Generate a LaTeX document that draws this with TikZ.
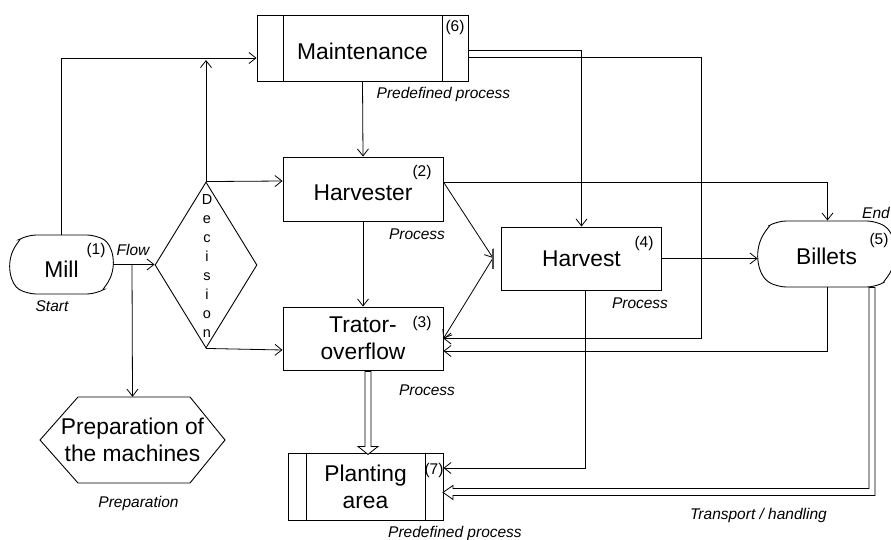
\documentclass[tikz,border=0pt]{standalone}
\usepackage{fontspec}
\setmainfont{Liberation Sans}
\usetikzlibrary{arrows.meta,shapes.geometric,shapes.misc,calc}
\tikzset{
  big/.style={font=\fontsize{22.8}{27}\selectfont},
  sm/.style={font=\fontsize{15.5}{18}\selectfont},
  it/.style={font=\fontsize{15.5}{18}\selectfont\itshape},
  box/.style={draw, line width=0.9pt, fill=white, inner sep=0pt, align=center, big},
  term/.style={box, rounded rectangle, rounded rectangle arc length=120, rounded corners=9pt},
  arr/.style={draw, line width=0.8pt, -{Straight Barb[length=7pt,width=11pt]}},
  hol/.style={draw, line width=0.8pt, fill=white},
  lbl/.style={inner sep=0pt}
}
\begin{document}
\begin{tikzpicture}[x=1pt,y=-1pt]
\useasboundingbox (0,0) rectangle (891,540);

% ---------- nodes ----------
\node[box, minimum width=211pt, minimum height=66pt, text height=24pt, text depth=0pt] (maint) at (362.5,48) {Maintenance};
\draw[line width=0.9pt] ([xshift=27pt]maint.north west) -- ([xshift=27pt]maint.south west);
\draw[line width=0.9pt] ([xshift=-26pt]maint.north east) -- ([xshift=-26pt]maint.south east);

\node[box, minimum width=160pt, minimum height=64pt, text height=23pt, text depth=0pt] (harv) at (363,189) {Harvester};
\node[box, minimum width=160pt, minimum height=63pt] (trat) at (363,338.5) {Trator-\\overflow};
\node[box, minimum width=160pt, minimum height=63pt] (harvest) at (581.5,258.5) {Harvest};
\node[term, minimum width=137pt, minimum height=66pt, text height=21pt, text depth=0pt] (bill) at (826.5,254) {Billets};
\node[term, minimum width=103pt, minimum height=59pt, text height=26pt, text depth=0pt] (mill) at (61.5,264.5) {Mill};
\node[draw, line width=0.9pt, fill=white, shape=diamond, inner sep=0pt, minimum width=102pt, minimum height=166pt] (dec) at (206,265) {};
\node[lbl, font=\fontsize{14.5}{18.9}\selectfont, align=center] (dectext) at (207,266) {D\\e\\c\\i\\s\\i\\o\\n};

\draw[line width=0.9pt, fill=white] (40,440) -- (78,397) -- (190,397) -- (225,440) -- (190,483) -- (78,483) -- cycle;
\node[inner sep=0pt, align=center, big, minimum height=86pt, minimum width=150pt] (prep) at (132.5,440) {Preparation of\\the machines};

\node[box, minimum width=155pt, minimum height=67pt] (plant) at (365.5,486.5) {Planting\\area};
\draw[line width=0.9pt] ([xshift=19pt]plant.north west) -- ([xshift=19pt]plant.south west);
\draw[line width=0.9pt] ([xshift=-18pt]plant.north east) -- ([xshift=-18pt]plant.south east);

% ---------- small labels ----------
\node[lbl, sm] (n6) at (455,27) {(6)};
\node[lbl, it] (l6) at (443.5,94) {Predefined process};
\node[lbl, sm] (n2) at (422,172) {(2)};
\node[lbl, it] (l2) at (417,234) {Process};
\node[lbl, sm] (n3) at (422,323) {(3)};
\node[lbl, it] (l3) at (427,390) {Process};
\node[lbl, sm] (n4) at (644,243) {(4)};
\node[lbl, it] (l4) at (640,303) {Process};
\node[lbl, sm] (n5) at (879,240) {(5)};
\node[lbl, it, anchor=east] (l5) at (890,213) {End};
\node[lbl, sm] (n1) at (96,250) {(1)};
\node[lbl, it] (lflow) at (133,250) {Flow};
\node[lbl, it] (lstart) at (52,306) {Start};
\node[lbl, sm] (n7) at (434,470) {(7)};
\node[lbl, it] (l7) at (455,533) {Predefined process};
\node[lbl, it] (lprep) at (138.5,503) {Preparation};
\node[lbl, it] (ltrans) at (758.5,515) {Transport / handling};

% ---------- helper coordinates ----------
\coordinate (br) at (132,264.5);
\coordinate (dtop) at (206,60);
\coordinate (jn) at (493,258);
\coordinate (m2) at (701,338.5);

% ---------- connectors ----------
\draw[arr] (mill.north) |- ([yshift=-10pt]maint.west);
\draw[arr] (mill.east) -- (mill.east -| dec.west);
\draw[arr] (br) -- (prep.north);
\draw[arr] (dec.north) -- (dtop);
\draw[arr] (dec.north) -- ([yshift=8pt]harv.west);
\draw[arr] (dec.south) -- ([yshift=-11.5pt]trat.west);
\draw[arr] (maint.south) -- (harv.north);
\draw[arr] (harv.south) -- (trat.north);
\draw[arr] ([yshift=-2pt]maint.east) -| (harvest.north);
\draw[arr] ([yshift=-9pt]maint.east) -| (m2) -- (trat.east);
\draw[arr] ([yshift=7pt]harv.east) -| ([xshift=1pt]bill.north);
\draw[arr] ([yshift=7pt]harv.east) -- (jn);
\draw[arr] (jn) -- (trat.east);
\draw[line width=1.3pt, black!70] ([yshift=9pt]jn) -- ([yshift=-11pt]jn);
\draw[arr] (harvest.east) -- (harvest.east -| bill.west);
\draw[arr] ([xshift=1pt]bill.south) |- ([yshift=-12.5pt]trat.east);
\draw[arr] ([xshift=3.5pt]harvest.south) |- ([yshift=18.5pt]plant.east);

% hollow arrows
\draw[hol] ([xshift=2pt,yshift=-1pt]trat.south) -- ++(0,75) -- ++(-7,0) -- ++(10,8) -- ++(10,-8) -- ++(-7,0) -- ++(0,-75) -- cycle;
\draw[hol] ([xshift=42.5pt]bill.south) -- ++(0,201) -- ++(-416,0) -- ++(0,-3) -- ++(-10,7) -- ++(10,7) -- ++(0,-4) -- ++(422,0) -- ++(0,-208) -- cycle;
\end{tikzpicture}
\end{document}
